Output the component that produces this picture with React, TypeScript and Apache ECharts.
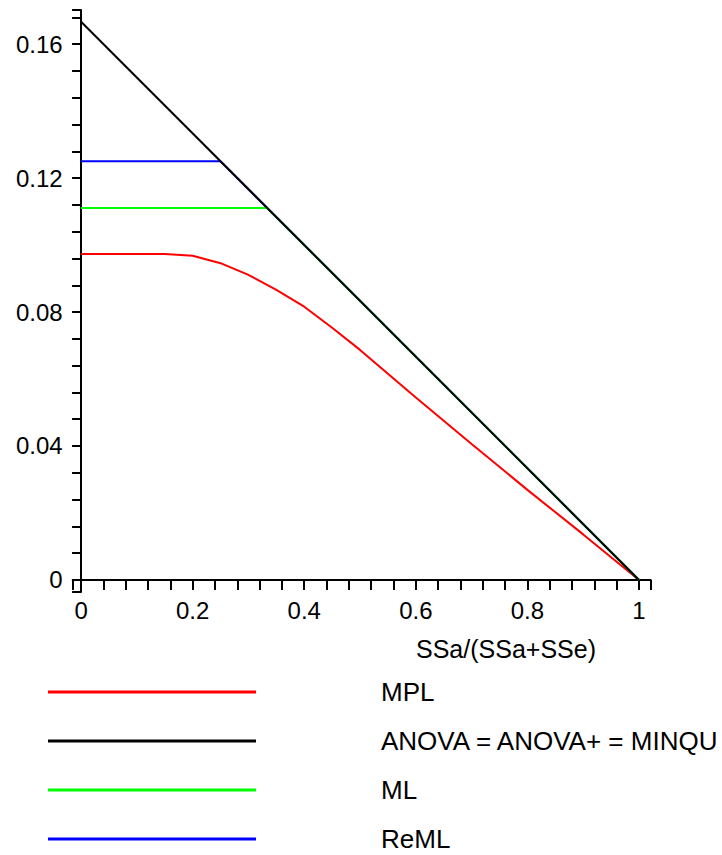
import React, { useEffect, useRef } from "react";
import * as echarts from "echarts";

// ---- data ----
const mplX = [0, 0.15, 0.2, 0.25, 0.3, 0.35, 0.4, 0.45, 0.5, 0.6, 0.7, 0.8, 0.9, 1.0];
const mplY = [0.0973, 0.0973, 0.0968, 0.0946, 0.0911, 0.0866, 0.0816, 0.0753, 0.0687, 0.0545, 0.0406, 0.0269, 0.0136, 0];

const anovaX = [0, 1];
const anovaY = [0.1667, 0];

const mlX = [0, 0.3333, 1];
const mlY = [0.1111, 0.1111, 0];

const remlX = [0, 0.25, 1];
const remlY = [0.125, 0.125, 0];

const seriesNames = ["MPL", "ANOVA = ANOVA+ = MINQU", "ML", "ReML"];
const seriesColors = ["#ff0000", "#000000", "#00ff00", "#0000ff"];

const xLabels = [0, 0.2, 0.4, 0.6, 0.8, 1];
const yLabels = [0, 0.04, 0.08, 0.12, 0.16];
const xTitle = "SSa/(SSa+SSe)";

const xMin = -0.015;
const xMax = 1.021;
const yMin = -0.0036;
const yMax = 0.1702;

const FONT = "'Liberation Sans', Arial, Helvetica, sans-serif";

function zip(xs: number[], ys: number[]) {
  return xs.map((x, i) => [x, ys[i]]);
}

export default function App() {
  const ref = useRef<HTMLDivElement>(null);

  useEffect(() => {
    if (!ref.current) return;
    const chart = echarts.init(ref.current, null, { renderer: "svg" });

    const xTicks: number[] = [xMin];
    for (let i = 0; i <= 25; i++) xTicks.push(+(i * 0.04).toFixed(2));
    xTicks.push(xMax);
    const yTicks: number[] = [yMin];
    for (let i = 0; i <= 21; i++) yTicks.push(+(i * 0.008).toFixed(3));
    yTicks.push(yMax);

    const dataSets = [zip(mplX, mplY), zip(anovaX, anovaY), zip(mlX, mlY), zip(remlX, remlY)];
    const drawOrder = [0, 3, 2, 1];
    const rowTop = [679, 728, 777, 826];

    chart.setOption({
      animation: false,
      backgroundColor: "#ffffff",
      grid: { left: 72.7, right: 71.3, top: 10, bottom: 263, containLabel: false },
      xAxis: {
        type: "value",
        min: xMin,
        max: xMax,
        splitLine: { show: false },
        axisLine: { show: true, onZero: true, lineStyle: { color: "#000", width: 2 } },
        axisTick: {
          show: true,
          length: 10,
          lineStyle: { color: "#000", width: 2 },
          customValues: xTicks,
        },
        axisLabel: {
          show: true,
          margin: 6,
          color: "#000",
          fontSize: 24,
          fontFamily: FONT,
          customValues: xLabels,
          formatter: (v: number) => String(+v.toFixed(2)),
        },
      },
      yAxis: {
        type: "value",
        min: yMin,
        max: yMax,
        splitLine: { show: false },
        axisLine: { show: true, onZero: true, lineStyle: { color: "#000", width: 2 } },
        axisTick: {
          show: true,
          length: 9,
          lineStyle: { color: "#000", width: 2 },
          customValues: yTicks,
        },
        axisLabel: {
          show: true,
          margin: 10,
          color: "#000",
          fontSize: 24,
          fontFamily: FONT,
          customValues: yLabels,
          formatter: (v: number) => (v === 0 ? "0" : v.toFixed(2)),
        },
      },
      legend: seriesNames.map((n, i) => ({
        data: [n],
        left: 48,
        top: rowTop[i],
        padding: 0,
        orient: "vertical",
        icon: "rect",
        itemWidth: 208,
        itemHeight: 3,
        selectedMode: false,
        textStyle: {
          color: "#000",
          fontSize: 26,
          fontFamily: FONT,
          padding: [0, 0, 0, 120],
        },
      })),
      graphic: [
        {
          type: "text",
          x: 506,
          y: 649,
          style: {
            text: xTitle,
            fill: "#000",
            font: `25px ${FONT}`,
            textAlign: "center",
            textVerticalAlign: "middle",
          },
        },
      ],
      series: drawOrder.map((i, k) => ({
        name: seriesNames[i],
        type: "line",
        data: dataSets[i],
        showSymbol: false,
        symbol: "none",
        z: 2 + k,
        itemStyle: { color: seriesColors[i] },
        lineStyle: { color: seriesColors[i], width: 2 },
        emphasis: { disabled: true },
      })),
    });

    return () => chart.dispose();
  }, []);

  return (
    <div
      ref={ref}
      style={{ position: "fixed", left: 0, top: 0, width: 722, height: 855, background: "#fff" }}
    />
  );
}
